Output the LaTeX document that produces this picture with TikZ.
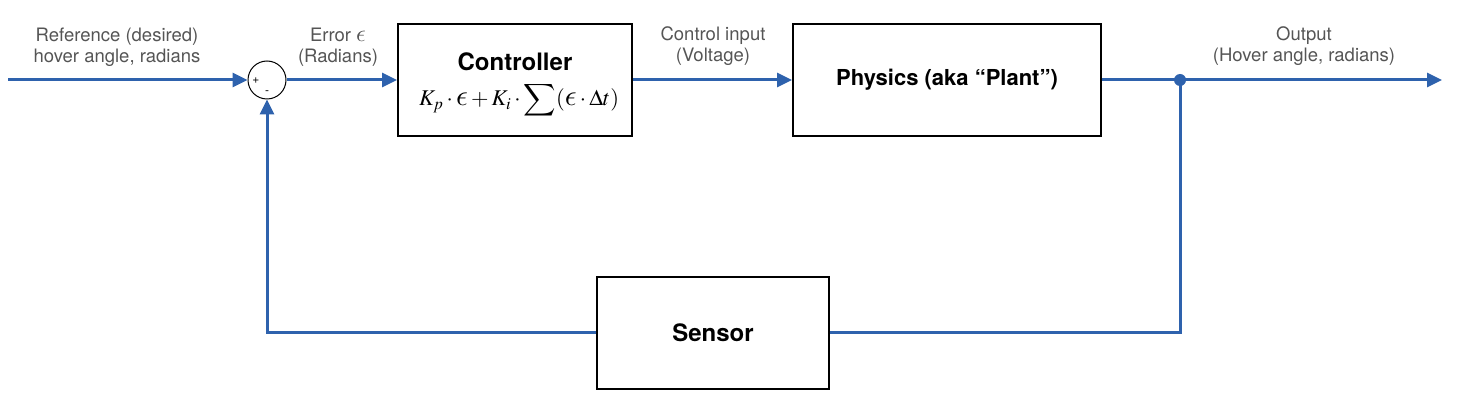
\RequirePackage{fix-cm}
\documentclass[tikz,border=0pt]{standalone}
\usepackage{amsmath}
\usepackage{mathptmx}
\usepackage{fontspec}
\setmainfont{TeX Gyre Heros}
\usetikzlibrary{arrows.meta}

% lunate epsilon and scalable sum from the CM fonts
\DeclareFontFamily{OML}{lmm}{\skewchar\font=127}
\DeclareFontShape{OML}{lmm}{m}{it}{<->s*[1.3]cmmi10}{}
\DeclareFontFamily{OMX}{lmx}{}
\DeclareFontShape{OMX}{lmx}{m}{n}{<->s*[1]cmex10}{}
\DeclareSymbolFont{cmletters}{OML}{lmm}{m}{it}
\DeclareSymbolFont{cmlarge}{OMX}{lmx}{m}{n}
\DeclareMathSymbol{\lunateps}{\mathord}{cmletters}{"0F}
\DeclareMathSymbol{\bigsum}{\mathop}{cmlarge}{"50}

\definecolor{flowblue}{HTML}{2E62AD}
\definecolor{labelgray}{HTML}{555555}

\tikzset{
  block/.style={draw=black, line width=2pt, align=center},
  flow/.style={draw=flowblue, line width=3pt, -{Triangle[length=15pt,width=14pt]}},
  wire/.style={draw=flowblue, line width=3pt},
  siglabel/.style={text=labelgray, font=\fontsize{18.5}{21.5}\selectfont, align=center, inner sep=0pt},
  blocktitle/.style={font=\fontsize{23}{27}\selectfont\bfseries, inner sep=0pt},
}

\begin{document}
\begin{tikzpicture}[x=1pt, y=-1pt]
  \useasboundingbox (0,0) rectangle (1466,411);

  \coordinate (ref) at (8,80);
  \coordinate (out) at (1442,80);
  \coordinate (tap) at (1180,80);

  % summing junction
  \node[circle, draw, line width=1pt, minimum size=38pt, inner sep=0pt] (sum) at (267,80) {};
  \node[font=\fontsize{12}{14}\selectfont, inner sep=0pt] (plus) at (256,81) {+};
  \node[font=\fontsize{12}{14}\selectfont, inner sep=0pt] (minus) at (267,93) {-};

  % blocks
  \node[block, minimum width=234pt, minimum height=112pt] (ctrl) at (515,80) {};
  \node[blocktitle, font=\fontsize{24}{28}\selectfont\bfseries] (ctrltitle) at (515,62) {Controller};
  \node[inner sep=0pt, anchor=base, font=\fontsize{22.5}{26}\selectfont] (ctrllaw) at (519,106)
    {$\smash[t]{K_p\cdot\lunateps+K_i\cdot\displaystyle\bigsum(\lunateps\cdot\Delta t)}$};
  \node[block, minimum width=308pt, minimum height=112pt] (plant) at (947,80) {};
  \node[blocktitle, font=\fontsize{22}{26}\selectfont\bfseries] (planttitle) at (947,80) {Physics (aka “Plant”)};
  \node[block, minimum width=232pt, minimum height=111pt] (sensor) at (713,333) {};
  \node[blocktitle, font=\fontsize{24}{28}\selectfont\bfseries] (sensortitle) at (713,333) {Sensor};

  % connectors
  \draw[flow] (ref) -- (sum.west);
  \draw[flow] (sum.east) -- (ctrl.west);
  \draw[flow] (ctrl.east) -- (plant.west);
  \draw[flow] (plant.east) -- (out);
  \draw[wire] (tap) |- (sensor.east);
  \draw[flow] (sensor.west) -| (sum.south);
  \fill[flowblue] (tap) circle (6pt);

  % signal labels
  \node[siglabel] (reflabel) at (117,47) {Reference (desired)\\hover angle, radians};
  \node[siglabel] (errlabel) at (338,47) {Error $\lunateps$\\(Radians)};
  \node[siglabel] (ctrllabel) at (713,46) {Control input\\(Voltage)};
  \node[siglabel] (outlabel) at (1304,46) {Output\\(Hover angle, radians)};
\end{tikzpicture}
\end{document}
